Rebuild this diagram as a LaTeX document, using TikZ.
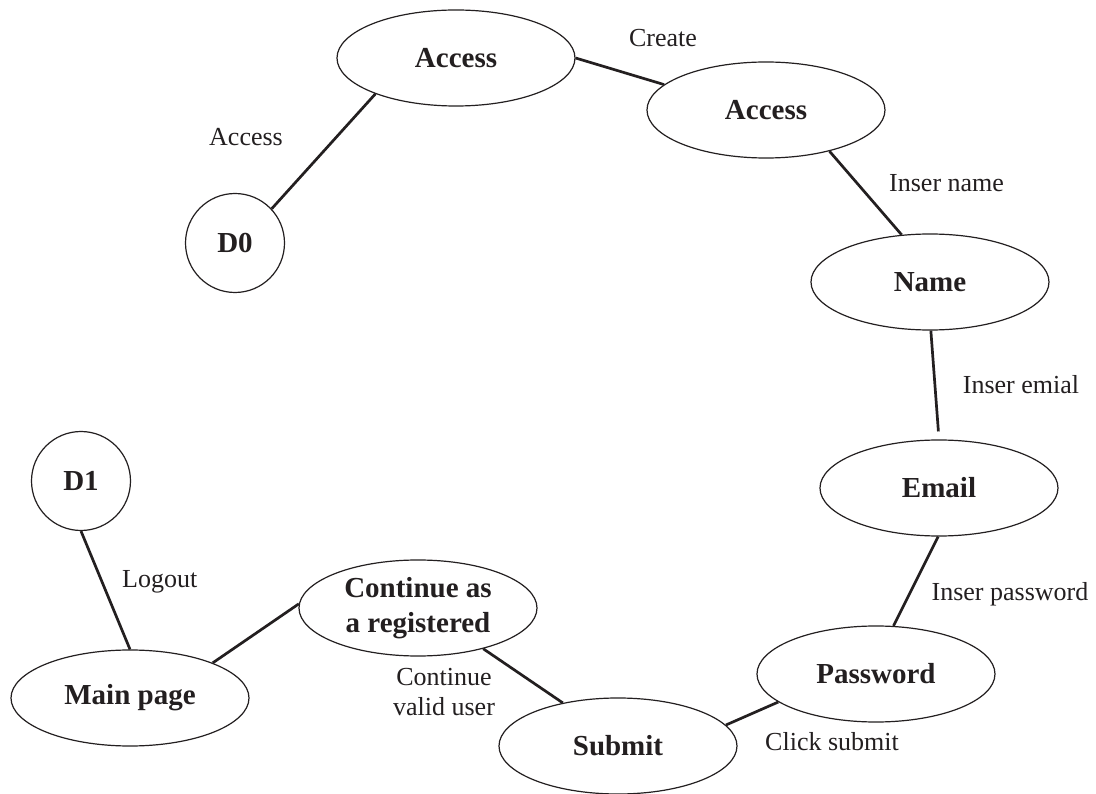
\documentclass[tikz,border=0pt]{standalone}
\usepackage{fontspec}
\setmainfont{Liberation Serif}
\usetikzlibrary{shapes.geometric}
\definecolor{ink}{RGB}{35,31,32}
\begin{document}
\begin{tikzpicture}[x=1pt,y=-1pt,
  state/.style={ellipse,draw=ink,line width=1.2pt,minimum width=238pt,minimum height=96pt,
    inner sep=0pt,align=center,text=ink,font=\fontsize{29}{35}\selectfont\bfseries},
  term/.style={circle,draw=ink,line width=1.2pt,minimum size=99pt,inner sep=0pt,
    text=ink,font=\fontsize{29}{35}\selectfont\bfseries},
  link/.style={draw=ink,line width=2.7pt},
  lbl/.style={align=center,inner sep=0pt,text=ink,font=\fontsize{26}{30}\selectfont}]
\useasboundingbox[fill=white] (0,0) rectangle (1096,794);

% states
\node[state] (acc1)   at (456,58)  {Access};
\node[state] (acc2)   at (766,110) {Access};
\node[state] (name)   at (930,282) {Name};
\node[state] (email)  at (939,488) {Email};
\node[state] (pass)   at (876,674) {Password};
\node[state] (submit) at (618,746) {Submit};
\node[state] (cont)   at (418,608) {Continue as\\a registered};
\node[state] (main)   at (130,698) {Main page};
\node[term]  (d0)     at (235,243) {D0};
\node[term]  (d1)     at (81,481)  {D1};

% transitions
\draw[link] (d0.43)     -- (acc1.204);
\draw[link] (acc1.0)    -- (acc2.166);
\draw[link] (acc2.-33)  -- (name.121);
\draw[link,shorten >=8pt] (name.-89) -- (email.90);
\draw[link] (email.-91) -- (pass.70);
\draw[link] (pass.196)  -- (submit.11);
\draw[link] (submit.142) -- (cont.-32);
\draw[link] (cont.178)  -- (main.23);
\draw[link] (d1.-90)    -- (main.90);

% transition labels
\node[lbl] (lcreate) at (663,38)  {Create};
\node[lbl] (laccess) at (246,137) {Access};
\node[lbl,anchor=west] (lname) at (889,183) {Inser name};
\node[lbl] (lemail)  at (1021,385) {Inser emial};
\node[lbl] (lpass)   at (1010,594) {Inser password};
\node[lbl,anchor=west] (lclick) at (765,742) {Click submit};
\node[lbl,anchor=west] (llogout) at (122,582) {Logout};
\node[lbl] (lvalid) at (444,692) {Continue\\valid user};
\end{tikzpicture}
\end{document}
